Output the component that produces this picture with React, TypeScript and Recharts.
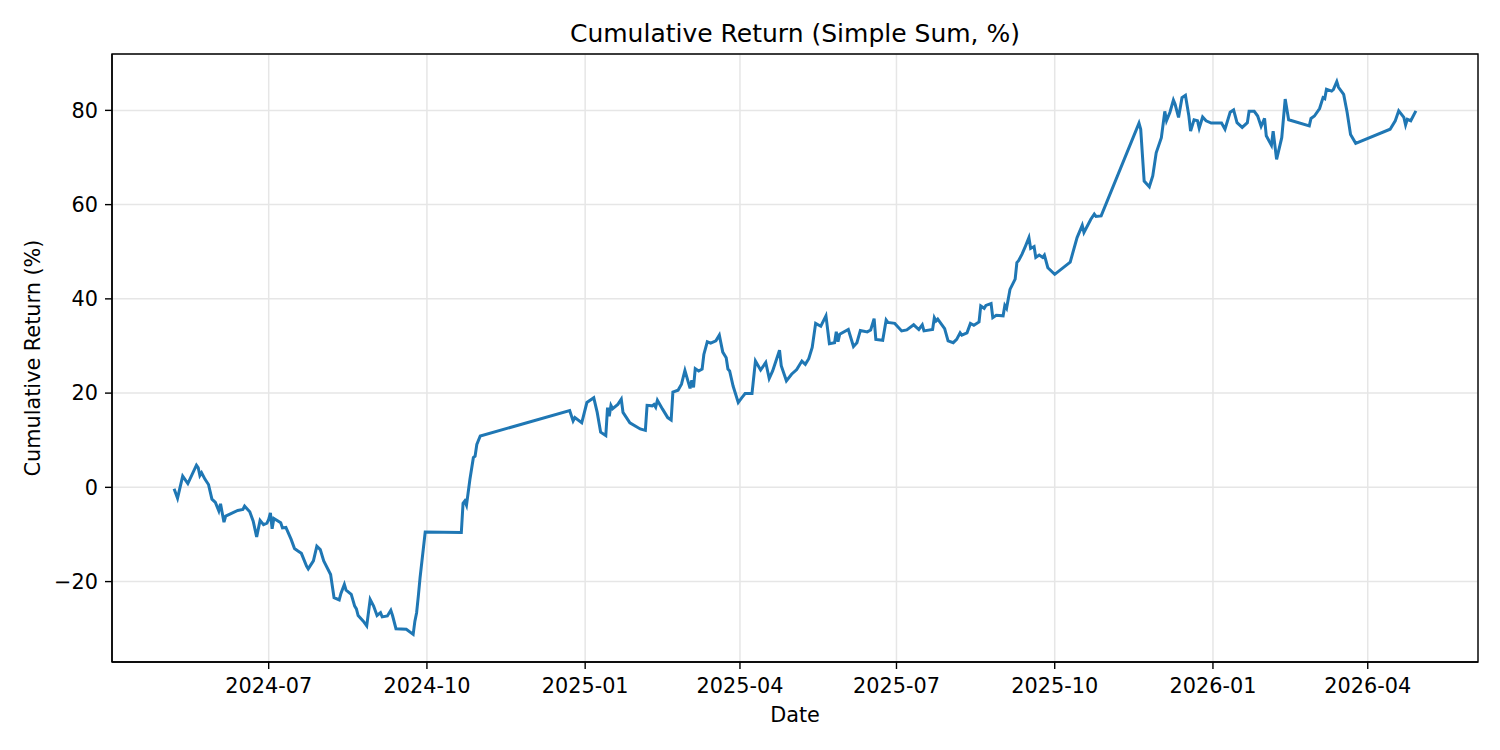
import { LineChart, Line, XAxis, YAxis, CartesianGrid, ReferenceArea } from 'recharts'

// dates and cumulative return values
const dates = [
  '2024-05-07', '2024-05-09', '2024-05-12', '2024-05-15', '2024-05-20', '2024-05-21', '2024-05-22', '2024-05-23',
  '2024-05-25', '2024-05-27', '2024-05-29', '2024-05-31', '2024-06-02', '2024-06-03', '2024-06-05', '2024-06-06',
  '2024-06-13', '2024-06-16', '2024-06-17', '2024-06-20', '2024-06-22', '2024-06-24', '2024-06-26', '2024-06-28',
  '2024-06-30', '2024-07-01', '2024-07-02', '2024-07-03', '2024-07-04', '2024-07-08', '2024-07-09', '2024-07-11',
  '2024-07-14', '2024-07-16', '2024-07-18', '2024-07-20', '2024-07-23', '2024-07-24', '2024-07-27', '2024-07-29',
  '2024-07-31', '2024-08-02', '2024-08-06', '2024-08-08', '2024-08-11', '2024-08-12', '2024-08-14', '2024-08-15',
  '2024-08-18', '2024-08-20', '2024-08-21', '2024-08-22', '2024-08-25', '2024-08-27', '2024-08-29', '2024-08-31',
  '2024-09-02', '2024-09-04', '2024-09-05', '2024-09-08', '2024-09-10', '2024-09-11', '2024-09-13', '2024-09-19',
  '2024-09-23', '2024-09-24', '2024-09-25', '2024-09-26', '2024-09-27', '2024-09-30', '2024-10-21', '2024-10-22',
  '2024-10-23', '2024-10-24', '2024-10-26', '2024-10-28', '2024-10-29', '2024-10-30', '2024-11-01', '2024-12-23',
  '2024-12-25', '2024-12-26', '2024-12-30', '2024-12-31', '2025-01-02', '2025-01-06', '2025-01-08', '2025-01-10',
  '2025-01-13', '2025-01-14', '2025-01-15', '2025-01-16', '2025-01-17', '2025-01-20', '2025-01-22', '2025-01-23',
  '2025-01-27', '2025-02-02', '2025-02-05', '2025-02-06', '2025-02-09', '2025-02-10', '2025-02-11', '2025-02-12',
  '2025-02-15', '2025-02-18', '2025-02-20', '2025-02-21', '2025-02-24', '2025-02-26', '2025-02-28', '2025-03-03',
  '2025-03-04', '2025-03-05', '2025-03-06', '2025-03-08', '2025-03-10', '2025-03-11', '2025-03-13', '2025-03-15',
  '2025-03-18', '2025-03-20', '2025-03-22', '2025-03-24', '2025-03-25', '2025-03-26', '2025-03-28', '2025-03-31',
  '2025-04-02', '2025-04-04', '2025-04-08', '2025-04-10', '2025-04-13', '2025-04-16', '2025-04-18', '2025-04-20',
  '2025-04-24', '2025-04-25', '2025-04-28', '2025-05-01', '2025-05-04', '2025-05-07', '2025-05-09', '2025-05-11',
  '2025-05-13', '2025-05-15', '2025-05-18', '2025-05-21', '2025-05-23', '2025-05-26', '2025-05-27', '2025-05-28',
  '2025-05-29', '2025-06-03', '2025-06-06', '2025-06-08', '2025-06-10', '2025-06-14', '2025-06-16', '2025-06-18',
  '2025-06-19', '2025-06-23', '2025-06-25', '2025-06-26', '2025-06-30', '2025-07-04', '2025-07-07', '2025-07-11',
  '2025-07-14', '2025-07-16', '2025-07-17', '2025-07-22', '2025-07-23', '2025-07-24', '2025-07-25', '2025-07-29',
  '2025-07-31', '2025-08-03', '2025-08-05', '2025-08-07', '2025-08-08', '2025-08-11', '2025-08-13', '2025-08-15',
  '2025-08-18', '2025-08-19', '2025-08-21', '2025-08-22', '2025-08-25', '2025-08-26', '2025-08-28', '2025-09-01',
  '2025-09-02', '2025-09-03', '2025-09-05', '2025-09-08', '2025-09-09', '2025-09-10', '2025-09-12', '2025-09-14',
  '2025-09-16', '2025-09-17', '2025-09-19', '2025-09-20', '2025-09-22', '2025-09-24', '2025-09-25', '2025-09-27',
  '2025-10-01', '2025-10-10', '2025-10-14', '2025-10-17', '2025-10-18', '2025-10-22', '2025-10-24', '2025-10-25',
  '2025-10-28', '2025-11-19', '2025-11-20', '2025-11-22', '2025-11-25', '2025-11-27', '2025-11-29', '2025-12-02',
  '2025-12-04', '2025-12-05', '2025-12-07', '2025-12-09', '2025-12-10', '2025-12-12', '2025-12-14', '2025-12-16',
  '2025-12-18', '2025-12-19', '2025-12-21', '2025-12-23', '2025-12-24', '2025-12-26', '2025-12-28', '2025-12-31',
  '2026-01-06', '2026-01-08', '2026-01-11', '2026-01-13', '2026-01-15', '2026-01-18', '2026-01-21', '2026-01-22',
  '2026-01-25', '2026-01-27', '2026-01-29', '2026-01-31', '2026-02-01', '2026-02-04', '2026-02-05', '2026-02-07',
  '2026-02-10', '2026-02-12', '2026-02-14', '2026-02-26', '2026-02-27', '2026-03-01', '2026-03-04', '2026-03-06',
  '2026-03-07', '2026-03-08', '2026-03-11', '2026-03-12', '2026-03-14', '2026-03-15', '2026-03-18', '2026-03-20',
  '2026-03-22', '2026-03-25', '2026-04-14', '2026-04-17', '2026-04-19', '2026-04-22', '2026-04-23', '2026-04-24',
  '2026-04-26', '2026-04-29',
]

const values = [
  -0.3, -2.3, 2.4, 0.8, 4.7, 4.2, 2.5, 3.1,
  1.7, 0.6, -2.5, -3.2, -5.0, -3.5, -7.4, -6.1,
  -4.9, -4.7, -4.0, -5.2, -7.2, -10.5, -7.0, -7.9,
  -7.6, -6.8, -5.4, -8.8, -6.6, -7.5, -8.6, -8.5,
  -11.0, -13.0, -13.5, -14.0, -16.7, -17.3, -15.6, -12.5,
  -13.2, -15.6, -18.5, -23.4, -23.9, -22.5, -20.6, -21.8,
  -22.7, -25.2, -25.8, -27.2, -28.4, -29.4, -23.8, -25.2,
  -27.2, -26.6, -27.5, -27.3, -26.1, -27.2, -30.0, -30.1,
  -31.2, -28.4, -26.6, -23.1, -19.2, -9.5, -9.6, -3.4,
  -2.9, -3.8, 1.7, 6.3, 6.6, 9.1, 10.9, 16.3,
  14.1, 14.8, 13.7, 15.1, 18.0, 19.0, 15.9, 11.7,
  11.0, 16.9, 15.1, 17.4, 16.7, 17.6, 18.7, 15.9,
  13.7, 12.4, 12.1, 17.4, 17.3, 17.6, 17.0, 18.5,
  16.6, 14.8, 14.3, 20.2, 20.6, 21.9, 24.8, 21.0,
  22.7, 21.2, 25.2, 24.7, 25.1, 28.2, 30.9, 30.6,
  31.1, 32.3, 28.7, 27.5, 25.1, 24.7, 21.5, 18.0,
  19.0, 19.9, 19.9, 26.8, 24.9, 26.5, 23.1, 24.7,
  29.1, 25.8, 22.6, 24.0, 25.0, 26.8, 26.1, 27.3,
  29.7, 34.8, 34.2, 36.4, 30.5, 30.7, 33.0, 30.9,
  32.5, 33.5, 29.9, 30.7, 33.3, 33.0, 33.4, 35.8,
  31.4, 31.2, 35.5, 35.0, 34.8, 33.2, 33.4, 34.5,
  33.5, 34.5, 33.2, 33.5, 36.0, 35.3, 35.7, 33.7,
  31.1, 30.7, 31.4, 32.8, 32.3, 32.8, 34.8, 34.4,
  35.1, 38.5, 38.0, 38.6, 39.0, 36.0, 36.5, 36.4,
  38.6, 38.0, 42.0, 44.2, 47.7, 48.1, 49.5, 51.2,
  53.0, 50.7, 51.1, 48.8, 49.3, 48.8, 49.3, 46.6,
  45.2, 47.8, 53.0, 55.6, 54.1, 56.9, 58.0, 57.5,
  57.6, 77.3, 76.0, 65.0, 63.8, 66.1, 71.0, 74.2,
  79.8, 77.8, 79.6, 82.2, 81.3, 78.5, 82.7, 83.2,
  78.8, 75.6, 78.0, 77.8, 76.2, 78.6, 77.8, 77.3,
  77.3, 76.0, 79.6, 80.1, 77.4, 76.4, 77.4, 79.8,
  79.8, 78.8, 76.6, 78.3, 74.6, 72.6, 75.6, 69.6,
  74.2, 82.4, 78.0, 76.7, 78.3, 78.8, 80.4, 82.7,
  82.5, 84.5, 84.1, 84.4, 86.1, 84.9, 83.4, 79.6,
  74.9, 73.0, 76.0, 77.8, 79.9, 78.5, 76.9, 78.1,
  77.8, 79.9,
]

const xTickDates = ['2024-07-01', '2024-10-01', '2025-01-01', '2025-04-01', '2025-07-01', '2025-10-01', '2026-01-01', '2026-04-01']
const yTicks = [-20, 0, 20, 40, 60, 80]

const toTime = (d: string) => Date.parse(d + 'T00:00:00Z')

const data = dates.map((d, i) => ({ t: toTime(d), v: values[i] }))
const xTicks = xTickDates.map(toTime)

// matplotlib-style 5% margins around the data
const tMin = data[0].t
const tMax = data[data.length - 1].t
const xMin = tMin - (tMax - tMin) * 0.05
const xMax = tMax + (tMax - tMin) * 0.05
const vMin = Math.min(...values)
const vMax = Math.max(...values)
const yMin = vMin - (vMax - vMin) * 0.05
const yMax = vMax + (vMax - vMin) * 0.05

const font = 'DejaVu Sans, Verdana, sans-serif'

const fmtMonth = (t: number) => {
  const d = new Date(t)
  return `${d.getUTCFullYear()}-${String(d.getUTCMonth() + 1).padStart(2, '0')}`
}
const fmtNum = (v: number) => (v < 0 ? '\u2212' + Math.abs(v) : String(v))

export default function App() {
  return (
    <div style={{ position: 'absolute', left: 0, top: 0, width: 1500, height: 750, background: '#fff', fontFamily: font }}>
      <LineChart width={1500} height={750} data={data} margin={{ top: 54, right: 22, left: 0, bottom: 0 }}>
        <CartesianGrid stroke="#e6e6e6" strokeWidth={1.5} />
        <XAxis
          dataKey="t"
          type="number"
          domain={[xMin, xMax]}
          allowDataOverflow
          ticks={xTicks}
          interval={0}
          tickFormatter={fmtMonth}
          height={88}
          tickSize={7}
          tickMargin={9}
          tick={{ fill: '#000', fontSize: 20.8, fontFamily: font }}
          axisLine={{ stroke: '#000', strokeWidth: 1.4 }}
          tickLine={{ stroke: '#000', strokeWidth: 1.4 }}
        />
        <YAxis
          type="number"
          domain={[yMin, yMax]}
          allowDataOverflow
          ticks={yTicks}
          interval={0}
          tickFormatter={fmtNum}
          width={112}
          tickSize={7}
          tickMargin={7}
          tick={{ fill: '#000', fontSize: 20.8, fontFamily: font }}
          axisLine={{ stroke: '#000', strokeWidth: 1.4 }}
          tickLine={{ stroke: '#000', strokeWidth: 1.4 }}
        />
        <Line type="linear" dataKey="v" stroke="#1f77b4" strokeWidth={3} dot={false} isAnimationActive={false} />
        <ReferenceArea x1={xMin} x2={xMax} y1={yMin} y2={yMax} fill="none" stroke="#000" strokeWidth={1.4} ifOverflow="visible" />
      </LineChart>
      <svg width={1500} height={750} style={{ position: 'absolute', left: 0, top: 0, pointerEvents: 'none' }}>
        <text x={795} y={42} textAnchor="middle" fontSize={25} fontFamily={font} fill="#000">
          Cumulative Return (Simple Sum, %)
        </text>
        <text x={795} y={722} textAnchor="middle" fontSize={20.8} fontFamily={font} fill="#000">
          Date
        </text>
        <text x={40} y={358} textAnchor="middle" fontSize={20.8} fontFamily={font} fill="#000" transform="rotate(-90 40 358)">
          Cumulative Return (%)
        </text>
      </svg>
    </div>
  )
}
